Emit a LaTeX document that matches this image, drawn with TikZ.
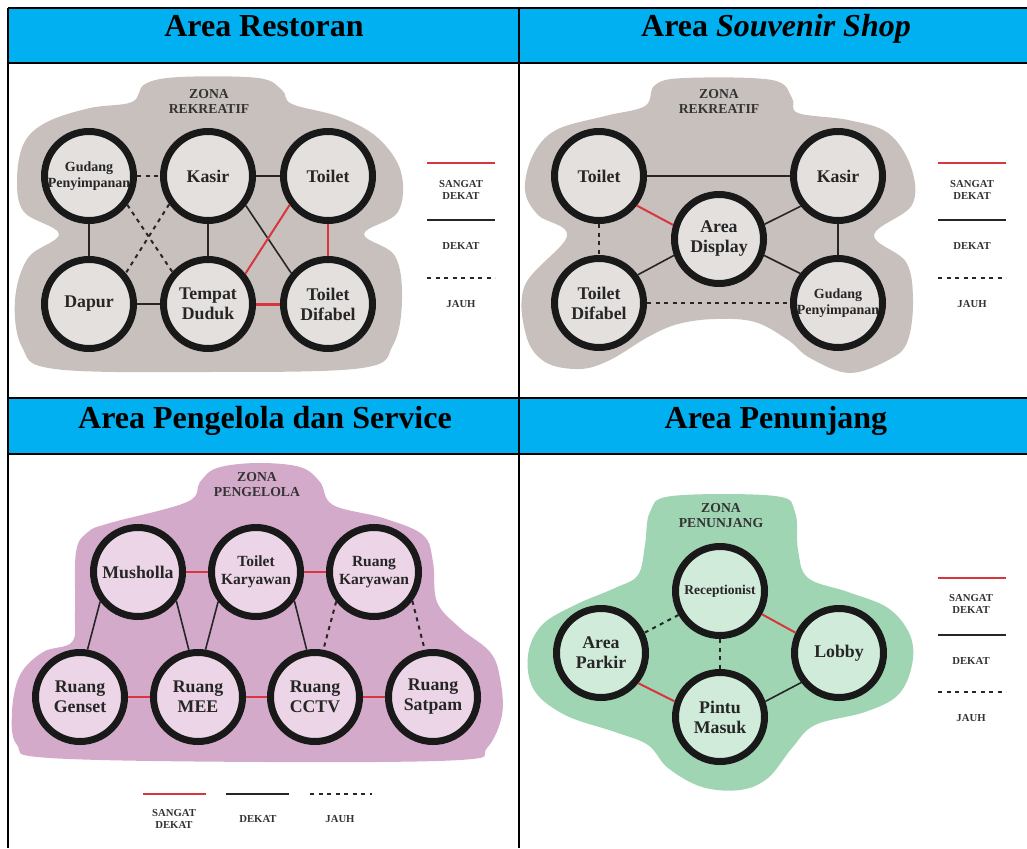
\documentclass[tikz,border=0pt]{standalone}
\usepackage{fontspec}
\setmainfont{Liberation Serif}
\usetikzlibrary{positioning}

\definecolor{biruJudul}{HTML}{00B0F0}
\definecolor{abuZona}{HTML}{C8C0BC}
\definecolor{abuRuang}{HTML}{E4E0DE}
\definecolor{unguZona}{HTML}{D4AACA}
\definecolor{unguRuang}{HTML}{EBD5E6}
\definecolor{hijauZona}{HTML}{9FD5B3}
\definecolor{hijauRuang}{HTML}{D0EBDA}
\definecolor{merahGaris}{HTML}{D8363F}

\begin{document}
\begin{tikzpicture}[x=1pt, y=-1pt,
    judul/.style={anchor=base, font=\bfseries\fontsize{32}{36}\selectfont},
    ruang/.style={circle, draw=black!90, line width=7pt, minimum size=89pt, inner sep=0pt, align=center, text=black!85, font=\bfseries\fontsize{17.8}{20}\selectfont},
    sedang/.style={font=\bfseries\fontsize{15.5}{18}\selectfont},
    kecil/.style={font=\bfseries\fontsize{14}{16}\selectfont},
    zona/.style={align=center, text=black!80, font=\bfseries\fontsize{13.7}{15}\selectfont},
    ket/.style={align=center, text=black!80, font=\bfseries\fontsize{10.7}{12}\selectfont},
    sangat/.style={draw=merahGaris, line width=2pt},
    dekat/.style={draw=black!85, line width=1.6pt},
    jauh/.style={draw=black!85, line width=2pt, dash pattern=on 4pt off 4.5pt}
]
    \useasboundingbox (0,0) rectangle (1027,848);

    % Tabel
    \fill[biruJudul] (8,8) rectangle (1027,63);
    \fill[biruJudul] (8,398) rectangle (1027,454);
    \foreach \y in {8, 63, 398, 454} {
        \draw[line width=2.4pt] (8,\y) -- (1027,\y);
    }
    \draw[line width=2.4pt] (8,8) -- (8,848);
    \draw[line width=2.4pt] (519,8) -- (519,848);

    \node[judul] (judulA) at (264,37) {Area Restoran};
    \node[judul] (judulB) at (776,37) {Area \textit{Souvenir Shop}};
    \node[judul] (judulC) at (265,428) {Area Pengelola dan Service};
    \node[judul] (judulD) at (776,428) {Area Penunjang};

    % Area Restoran
    \fill[abuZona] plot[smooth cycle, tension=0.6] coordinates {
        (17,180) (24,143) (47,122) (90,108) (132,102) (145,84) (180,77) (258,78)
        (282,90) (292,104) (340,117) (378,138) (401,172) (398,212) (364,234)
        (395,256) (402,300) (393,345) (362,368) (210,372) (55,369) (22,347)
        (15,300) (28,258) (59,234) (24,212)};
    \node[zona] (zonaA) at (209,101) {ZONA\\REKREATIF};

    \node[ruang, fill=abuRuang, kecil] (gudangA) at (89,176) {Gudang\\Penyimpanan};
    \node[ruang, fill=abuRuang] (kasirA) at (208,176) {Kasir};
    \node[ruang, fill=abuRuang] (toiletA) at (328,176) {Toilet};
    \node[ruang, fill=abuRuang] (dapur) at (89,304) {Dapur};
    \node[ruang, fill=abuRuang] (duduk) at (208,304) {Tempat\\Duduk};
    \node[ruang, fill=abuRuang] (difabelA) at (328,304) {Toilet\\Difabel};

    \draw[jauh] (gudangA) -- (kasirA);
    \draw[dekat] (kasirA) -- (toiletA);
    \draw[dekat] (gudangA) -- (dapur);
    \draw[dekat] (kasirA) -- (duduk);
    \draw[sangat] (toiletA) -- (difabelA);
    \draw[dekat] (dapur) -- (duduk);
    \draw[sangat, line width=3pt] (duduk) -- (difabelA);
    \draw[jauh] (gudangA.323) -- (duduk.138);
    \draw[jauh] (kasirA.216) -- (dapur.40);
    \draw[dekat] (kasirA.322) -- (difabelA.140);
    \draw[sangat] (toiletA.217) -- (duduk.39);

    \draw[sangat] (427,163) -- (495,163);
    \node[ket] (ketA1) at (461,190) {SANGAT\\DEKAT};
    \draw[dekat, line width=2.4pt] (427,220) -- (495,220);
    \node[ket] (ketA2) at (461,246) {DEKAT};
    \draw[jauh] (427,278) -- (495,278);
    \node[ket] (ketA3) at (461,304) {JAUH};

    % Area Souvenir Shop
    \fill[abuZona] plot[smooth cycle, tension=0.6] coordinates {
        (525,190) (533,155) (556,130) (605,116) (645,106) (655,85) (685,78)
        (772,80) (792,98) (798,113) (848,120) (888,133) (911,167) (912,205)
        (874,235) (906,262) (913,300) (908,340) (892,358) (850,373) (810,358)
        (788,340) (755,322) (715,319) (678,324) (648,337) (610,360) (580,369)
        (545,362) (526,335) (525,285) (567,236) (538,215)};
    \node[zona] (zonaB) at (719,101) {ZONA\\REKREATIF};

    \node[ruang, fill=abuRuang] (toiletB) at (599,176) {Toilet};
    \node[ruang, fill=abuRuang] (kasirB) at (838,176) {Kasir};
    \node[ruang, fill=abuRuang] (display) at (719,239) {Area\\Display};
    \node[ruang, fill=abuRuang] (difabelB) at (599,303) {Toilet\\Difabel};
    \node[ruang, fill=abuRuang, kecil] (gudangB) at (838,303) {Gudang\\Penyimpanan};

    \draw[dekat] (toiletB) -- (kasirB);
    \draw[sangat] (toiletB.322) -- (display.163);
    \draw[jauh] (toiletB) -- (difabelB);
    \draw[dekat] (display.18) -- (kasirB.219);
    \draw[dekat] (kasirB) -- (gudangB);
    \draw[dekat] (display.200) -- (difabelB.36);
    \draw[dekat] (display.340) -- (gudangB.142);
    \draw[jauh] (difabelB) -- (gudangB);

    \draw[sangat] (938,163) -- (1006,163);
    \node[ket] (ketB1) at (972,190) {SANGAT\\DEKAT};
    \draw[dekat, line width=2.4pt] (938,220) -- (1006,220);
    \node[ket] (ketB2) at (972,246) {DEKAT};
    \draw[jauh] (938,278) -- (1006,278);
    \node[ket] (ketB3) at (972,304) {JAUH};

    % Area Pengelola dan Service
    \fill[unguZona] plot[smooth cycle, tension=0.6] coordinates {
        (12,712) (20,675) (43,652) (72,642) (75,612) (76,552) (88,532)
        (110,523) (187,502) (200,482) (217,468) (257,463) (300,467) (320,482)
        (333,505) (383,518) (423,535) (433,562) (437,602) (460,628) (490,652)
        (500,678) (502,715) (487,748) (460,760) (267,762) (50,758) (17,745)};
    \node[zona] (zonaC) at (257,485) {ZONA\\PENGELOLA};

    \node[ruang, fill=unguRuang] (musholla) at (138,572) {Musholla};
    \node[ruang, fill=unguRuang, sedang] (toiletK) at (256,572) {Toilet\\Karyawan};
    \node[ruang, fill=unguRuang, sedang] (ruangK) at (374,572) {Ruang\\Karyawan};
    \node[ruang, fill=unguRuang] (genset) at (80,697) {Ruang\\Genset};
    \node[ruang, fill=unguRuang] (mee) at (198,697) {Ruang\\MEE};
    \node[ruang, fill=unguRuang] (cctv) at (315,697) {Ruang\\CCTV};
    \node[ruang, fill=unguRuang] (satpam) at (433,697) {Ruang\\Satpam};

    \draw[sangat] (musholla) -- (toiletK);
    \draw[sangat] (toiletK) -- (ruangK);
    \draw[sangat] (genset) -- (mee);
    \draw[sangat] (mee) -- (cctv);
    \draw[sangat] (cctv) -- (satpam);
    \draw[dekat] (musholla.218) -- (genset.81);
    \draw[dekat] (musholla.323) -- (mee.101);
    \draw[dekat] (toiletK.218) -- (mee.81);
    \draw[dekat] (toiletK.323) -- (cctv.100);
    \draw[jauh] (ruangK.218) -- (cctv.80);
    \draw[jauh] (ruangK.323) -- (satpam.100);

    \draw[sangat] (143,794) -- (206,794);
    \node[ket] (ketC1) at (174,819) {SANGAT\\DEKAT};
    \draw[dekat, line width=2.4pt] (226,794) -- (289,794);
    \node[ket] (ketC2) at (258,819) {DEKAT};
    \draw[jauh] (310,794) -- (372,794);
    \node[ket] (ketC3) at (340,819) {JAUH};

    % Area Penunjang
    \fill[hijauZona] plot[smooth cycle, tension=0.6] coordinates {
        (528,655) (542,625) (575,605) (615,588) (638,575) (645,545) (650,512)
        (672,496) (775,496) (795,512) (798,550) (808,578) (848,592) (888,608)
        (910,635) (912,665) (898,695) (865,712) (815,725) (792,748) (768,778)
        (740,790) (702,787) (668,768) (648,745) (615,732) (565,715) (534,690)};
    \node[zona] (zonaD) at (721,516) {ZONA\\PENUNJANG};

    \node[ruang, fill=hijauRuang, font=\bfseries\fontsize{13.5}{16}\selectfont] (receptionist) at (720,591) {Receptionist};
    \node[ruang, fill=hijauRuang] (parkir) at (601,653) {Area\\Parkir};
    \node[ruang, fill=hijauRuang] (lobby) at (839,653) {Lobby};
    \node[ruang, fill=hijauRuang] (pintu) at (720,717) {Pintu\\Masuk};

    \draw[jauh] (receptionist.210) -- (parkir.25);
    \draw[sangat] (receptionist.331) -- (lobby.155);
    \draw[jauh] (receptionist) -- (pintu);
    \draw[sangat] (parkir.321) -- (pintu.161);
    \draw[dekat] (pintu.19) -- (lobby.218);

    \draw[sangat] (938,578) -- (1006,578);
    \node[ket] (ketD1) at (971,604) {SANGAT\\DEKAT};
    \draw[dekat, line width=2.4pt] (938,635) -- (1006,635);
    \node[ket] (ketD2) at (971,661) {DEKAT};
    \draw[jauh] (938,692) -- (1006,692);
    \node[ket] (ketD3) at (971,718) {JAUH};
\end{tikzpicture}
\end{document}
